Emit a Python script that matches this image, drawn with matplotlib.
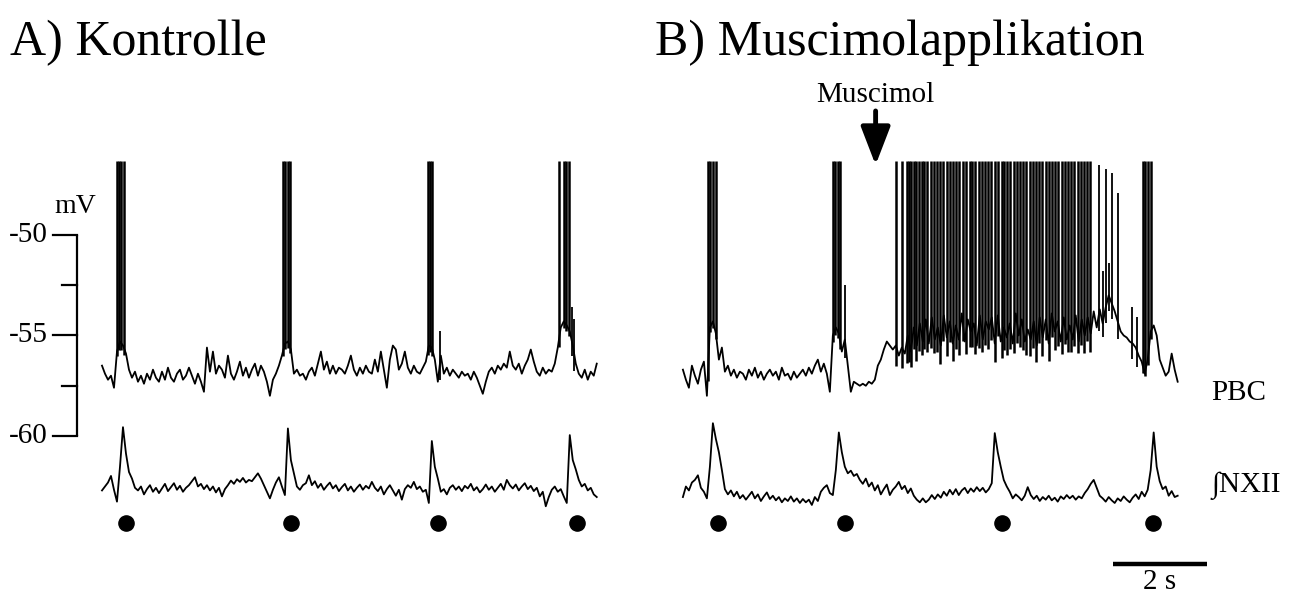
import numpy as np
import matplotlib.pyplot as plt

plt.rcParams['font.family'] = ['Liberation Serif', 'DejaVu Serif']

DT = 0.0638  # s between samples of the traces

# membrane potential of the PBC neuron (mV), control
pbc_ctrl = [
    -56.5, -56.9, -57.2, -57.0, -57.6, -55.8, -55.3, -55.5, -55.9, -56.7,
    -57.1, -56.8, -57.3, -57.0, -57.4, -56.9, -57.2, -56.7, -57.1, -57.3,
    -56.8, -57.2, -56.6, -57.1, -57.3, -56.9, -56.7, -57.2, -57.0, -56.6,
    -57.0, -57.4, -56.9, -57.3, -57.8, -55.6, -56.8, -55.8, -56.9, -56.5,
    -56.7, -57.1, -56.0, -56.9, -57.2, -56.8, -56.3, -57.0, -56.6, -57.1,
    -56.7, -56.4, -57.0, -56.5, -56.8, -57.3, -58.0, -57.2, -56.9, -56.5,
    -56.0, -55.4, -55.3, -55.7, -56.9, -56.7, -57.0, -56.9, -57.2, -56.8,
    -56.6, -57.0, -56.4, -55.8, -56.7, -56.3, -56.9, -56.5, -56.9, -56.6,
    -56.7, -56.9, -56.5, -56.0, -56.7, -57.0, -56.6, -56.9, -56.5, -56.8,
    -56.9, -56.2, -56.8, -55.8, -56.7, -57.6, -56.2, -55.5, -55.7, -56.7,
    -56.4, -55.8, -56.6, -56.9, -56.5, -56.8, -56.9, -56.6, -56.3, -55.5,
    -55.6, -56.2, -57.3, -56.0, -56.9, -56.6, -57.0, -56.7, -56.9, -57.1,
    -56.8, -57.0, -56.9, -57.2, -56.8, -57.1, -57.5, -57.9, -57.3, -56.8,
    -56.6, -56.9, -56.5, -56.7, -56.4, -56.6, -55.8, -56.5, -56.7, -56.4,
    -56.9, -56.5, -56.2, -55.7, -56.3, -56.8, -57.0, -56.6, -56.9, -56.7,
    -56.8, -56.4, -55.6, -54.6, -54.3, -54.5, -54.8, -55.5, -56.4, -56.9,
    -57.1, -56.7, -57.2, -56.8, -57.0, -56.4,
]

# membrane potential of the PBC neuron (mV), muscimol
pbc_musc = [
    -56.7, -57.2, -57.6, -56.5, -57.0, -57.4, -56.7, -56.3, -58.0, -54.6,
    -54.3, -54.9, -56.2, -55.6, -56.8, -56.5, -57.0, -56.7, -57.1, -56.8,
    -56.9, -57.2, -56.7, -57.0, -56.6, -57.1, -56.8, -57.2, -56.9, -56.7,
    -57.0, -56.8, -57.2, -56.6, -57.0, -56.9, -57.2, -56.8, -57.1, -56.9,
    -56.7, -57.0, -56.6, -56.9, -56.5, -56.2, -56.8, -56.4, -56.9, -57.8,
    -55.0, -54.6, -54.9, -55.8, -55.2, -56.5, -57.8, -57.3, -57.4, -57.5,
    -57.4, -57.5, -57.3, -57.4, -57.2, -56.5, -56.2, -55.7, -55.3, -55.5,
    -55.7, -55.5, -56.0, -55.6, -55.9, -55.0, -55.8, -54.6, -55.5, -54.4,
    -55.3, -54.2, -55.4, -54.1, -55.2, -54.6, -55.5, -54.0, -55.1, -54.3,
    -55.4, -54.5, -55.2, -53.9, -55.3, -54.2, -54.8, -54.4, -55.5, -54.0,
    -55.2, -54.3, -54.7, -54.1, -55.4, -54.0, -55.3, -54.6, -55.1, -54.4,
    -55.4, -53.9, -55.0, -54.2, -55.3, -54.7, -55.2, -54.3, -55.5, -54.1,
    -55.1, -54.2, -55.4, -53.9, -54.8, -54.3, -55.3, -54.1, -55.2, -54.5,
    -55.2, -54.0, -55.3, -54.2, -55.0, -54.1, -54.9, -53.8, -54.6, -53.7,
    -54.4, -53.6, -53.0, -53.4, -53.8, -54.3, -54.8, -55.0, -55.1, -55.3,
    -55.4, -55.6, -56.0, -56.3, -56.9, -56.2, -54.8, -54.5, -55.0, -56.2,
    -56.6, -57.0, -56.8, -55.9, -56.7, -57.3,
]

# integrated hypoglossal nerve activity (a.u.), control
nxii_ctrl = [
    0.04, 0.10, 0.16, 0.26, 0.05, -0.13, 0.40, 1.00, 0.60, 0.32,
    0.22, 0.08, 0.04, 0.10, -0.02, 0.06, 0.12, 0.02, 0.08, 0.00,
    0.07, 0.14, 0.03, 0.09, 0.15, 0.05, 0.11, 0.02, 0.08, 0.12,
    0.18, 0.24, 0.10, 0.14, 0.06, 0.12, 0.04, 0.10, 0.01, 0.08,
    -0.05, 0.06, 0.12, 0.19, 0.14, 0.21, 0.17, 0.23, 0.16, 0.20,
    0.18, 0.24, 0.30, 0.22, 0.12, 0.02, -0.08, 0.05, 0.16, 0.24,
    0.10, -0.03, 0.98, 0.50, 0.30, 0.10, 0.05, 0.12, 0.15, 0.27,
    0.12, 0.18, 0.08, 0.14, 0.05, 0.11, 0.16, 0.07, 0.12, 0.03,
    0.09, 0.14, 0.04, 0.10, 0.02, 0.08, 0.13, 0.05, 0.11, 0.07,
    0.17, 0.08, 0.03, 0.10, -0.02, 0.06, 0.12, 0.04, -0.04, 0.05,
    -0.10, 0.06, 0.12, 0.08, 0.17, 0.06, 0.10, 0.02, 0.05, -0.15,
    0.79, 0.40, 0.22, 0.02, 0.06, -0.02, 0.08, 0.12, 0.05, 0.10,
    0.03, 0.11, 0.07, 0.14, 0.04, 0.09, 0.01, 0.06, 0.13, 0.05,
    0.10, 0.02, 0.08, 0.14, 0.05, 0.20, 0.12, 0.07, 0.13, 0.04,
    0.10, 0.15, 0.06, 0.11, 0.03, 0.08, -0.05, 0.02, -0.20, -0.06,
    0.05, 0.10, 0.02, 0.06, -0.05, -0.15, 0.88, 0.50, 0.36, 0.20,
    0.10, 0.14, 0.04, 0.08, -0.02, -0.06,
]

# integrated hypoglossal nerve activity (a.u.), muscimol
nxii_musc = [
    -0.06, 0.10, 0.04, 0.16, 0.20, 0.27, 0.08, 0.02, -0.08, 0.40,
    1.06, 0.82, 0.62, 0.35, 0.06, -0.02, 0.04, -0.05, 0.02, -0.08,
    -0.03, -0.10, -0.04, 0.02, -0.08, -0.02, -0.12, -0.05, 0.01, -0.09,
    -0.04, -0.11, -0.06, -0.14, -0.08, -0.12, -0.05, -0.13, -0.08, -0.15,
    -0.09, -0.14, -0.10, -0.18, -0.06, -0.12, 0.02, 0.08, 0.12, 0.00,
    -0.03, 0.35, 0.92, 0.62, 0.40, 0.30, 0.34, 0.26, 0.29, 0.20,
    0.14, 0.22, 0.10, 0.16, 0.04, 0.12, -0.02, 0.06, 0.13, -0.03,
    0.05, 0.10, 0.17, 0.06, 0.11, 0.00, 0.07, -0.04, -0.10, -0.14,
    -0.08, -0.14, -0.10, -0.03, -0.09, -0.02, -0.07, 0.02, -0.04, 0.05,
    -0.02, 0.06, -0.03, 0.04, 0.08, 0.00, 0.07, 0.02, 0.09, 0.03,
    0.08, 0.01, 0.06, 0.15, 0.91, 0.62, 0.40, 0.20, 0.10, 0.02,
    -0.08, -0.02, -0.06, -0.11, -0.04, 0.09, -0.03, -0.09, -0.04, -0.12,
    -0.06, -0.10, -0.04, -0.11, -0.07, -0.13, -0.05, -0.09, -0.03, -0.08,
    -0.04, -0.10, -0.05, -0.08, 0.00, 0.06, 0.14, 0.20, 0.08, -0.04,
    -0.08, -0.13, -0.06, -0.11, -0.15, -0.08, -0.12, -0.05, -0.10, -0.14,
    -0.07, -0.02, -0.09, 0.02, -0.05, 0.05, 0.35, 0.92, 0.40, 0.18,
    0.06, 0.10, -0.04, 0.03, -0.06, -0.04,
]

# action potentials reaching the clipped top (s)
bursts_ctrl = [0.33, 0.37, 0.415, 0.47, 3.86, 3.90, 3.95, 4.00,
               6.94, 6.98, 7.03, 9.72, 9.83, 9.88, 9.94]
bursts_musc = [0.53, 0.585, 0.64, 0.70, 3.19, 3.245, 3.30, 3.35,
               9.79, 9.84, 9.89, 9.95]
tonic_musc = [4.53, 4.66, 4.76, 4.81, 4.86, 4.91, 4.96, 5.02, 5.08, 5.14,
              5.20, 5.27, 5.34, 5.40, 5.48, 5.54, 5.61, 5.68, 5.75, 5.82,
              5.88, 5.95, 6.02, 6.10, 6.16, 6.22, 6.29, 6.36, 6.43, 6.50,
              6.56, 6.63, 6.70, 6.78, 6.84, 6.90, 6.97, 7.04, 7.11, 7.18,
              7.24, 7.31, 7.38, 7.44, 7.52, 7.58, 7.65, 7.72, 7.79, 7.86,
              7.92, 7.99, 8.06, 8.12, 8.20, 8.26, 8.33, 8.40, 8.47, 8.54,
              8.60, 8.67]
# smaller spikes: time (s) and peak (mV)
partial_ctrl_t = [7.19, 9.99, 10.05]
partial_ctrl_pk = [-54.8, -53.6, -54.2]
partial_musc_t = [3.45, 8.85, 8.94, 9.00, 9.06, 9.12, 9.26, 9.55, 9.66]
partial_musc_pk = [-52.5, -46.5, -51.8, -46.7, -51.4, -46.9, -47.9, -53.6, -54.1]

# inspiratory bursts (dots, s)
insp_ctrl = [0.52, 4.02, 7.15, 10.11]
insp_musc = [0.75, 3.44, 6.78, 10.01]
muscimol_t = 4.1

SPIKE_TOP = -46.3
NXII_BASE, NXII_GAIN = -62.84, 3.28
B_OFFSET = 12.36

fig = plt.figure(figsize=(12.94, 5.95), dpi=100)
ax = fig.add_axes([0, 0, 1, 1])
ax.set_xlim(-2.170, 25.362)
ax.set_ylim(-67.91, -38.31)
ax.axis('off')


def panel(x0, pbc, nxii, bursts, tonic, part_t, part_pk, dots):
    t = np.arange(len(pbc)) * DT
    pbc = np.array(pbc)
    ax.plot(x0 + t, pbc, color='k', lw=1.3)
    ax.plot(x0 + t, NXII_BASE + NXII_GAIN * np.array(nxii), color='k', lw=1.3)
    for sp, depth, lw in [(bursts, 0.3, 1.8), (tonic, 1.0, 1.8)]:
        sp = np.array(sp)
        if len(sp):
            base = np.interp(sp, t, pbc) - depth
            ax.vlines(x0 + sp, base, SPIKE_TOP, color='k', lw=lw)
    part_t = np.array(part_t)
    ax.vlines(x0 + part_t, np.interp(part_t, t, pbc) - 0.8, part_pk, color='k', lw=1.3)
    ax.scatter(x0 + np.array(dots), [-64.33] * len(dots), s=120, color='k', zorder=3)


panel(0, pbc_ctrl, nxii_ctrl, bursts_ctrl, [], partial_ctrl_t, partial_ctrl_pk, insp_ctrl)
panel(B_OFFSET, pbc_musc, nxii_musc, bursts_musc, tonic_musc, partial_musc_t, partial_musc_pk, insp_musc)

# mV scale
ax.plot([-0.532, -0.532], [-60, -50], color='k', lw=1.6, solid_capstyle='butt')
for v in [-50, -55, -60]:
    ax.plot([-1.043, -0.532], [v, v], color='k', lw=1.6)
    ax.text(-1.149, v, str(v), ha='right', va='center', fontsize=21)
for v in [-52.5, -57.5]:
    ax.plot([-0.851, -0.532], [v, v], color='k', lw=1.6)
ax.text(-0.57, -48.6, 'mV', ha='center', va='center', fontsize=20)

# muscimol arrow
ax.text(B_OFFSET + muscimol_t, -43.38, 'Muscimol', ha='center', va='baseline', fontsize=21)
ax.annotate('', xy=(B_OFFSET + muscimol_t, -46.52), xytext=(B_OFFSET + muscimol_t, -43.83),
            arrowprops=dict(arrowstyle='-|>,head_length=1.3,head_width=0.5', color='k',
                            lw=3.5, mutation_scale=18, shrinkA=0, shrinkB=0))

# trace labels
ax.text(23.6, -57.86, 'PBC', ha='left', va='center', fontsize=21)
ax.text(23.6, -62.5, '∫NXII', ha='left', va='center', fontsize=21)

# time scale bar
ax.plot([B_OFFSET + 9.15, B_OFFSET + 11.15], [-66.37, -66.37], color='k', lw=3.2,
        solid_capstyle='butt')
ax.text(B_OFFSET + 10.15, -67.9, '2 s', ha='center', va='bottom', fontsize=21)

fig.text(10 / 1294, 1 - 55 / 595, 'A) Kontrolle', fontsize=36, va='baseline')
fig.text(655 / 1294, 1 - 55 / 595, 'B) Muscimolapplikation', fontsize=36, va='baseline')

fig.savefig('out.png', dpi=100)
